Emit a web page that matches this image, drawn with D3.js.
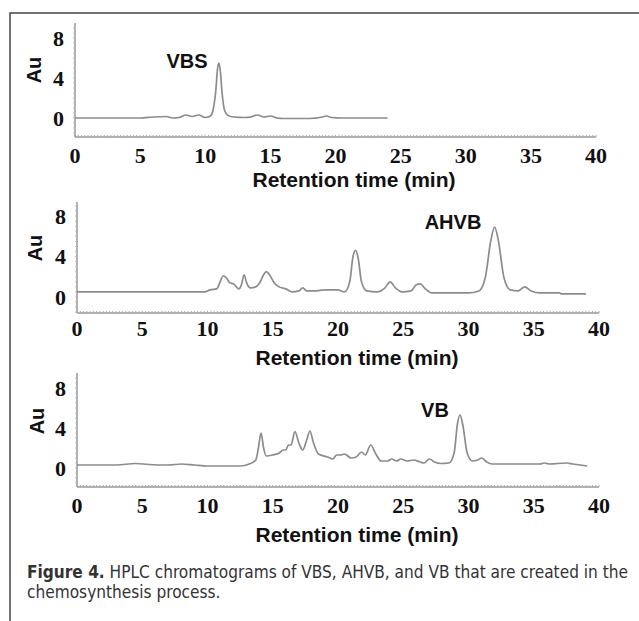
<!DOCTYPE html>
<html><head><meta charset="utf-8">
<script src="https://cdn.jsdelivr.net/npm/d3@7"></script>
<style>body{margin:0;background:#fff}svg{display:block}</style>
</head><body>
<svg id="c" width="639" height="621"></svg>
<script>
// ---- data ----
const xTicks = [0, 5, 10, 15, 20, 25, 30, 35, 40];
const yTicks = [0, 4, 8];
const peakNames = ["VBS", "AHVB", "VB"];
const xTitle = "Retention time (min)";
const yTitle = "Au";

const vbsTime = [0, 5, 6, 7, 7.5, 8, 8.5, 9, 9.5, 10, 10.4, 10.6, 10.8, 10.95, 11.05, 11.15, 11.3, 11.5, 11.75, 12.2, 13, 13.5, 14, 14.5, 15, 15.5, 16, 18, 19, 19.3, 19.7, 20.5, 24];
const vbsAu   = [0, 0, 0.1, 0.15, 0, 0.05, 0.3, 0.15, 0.3, 0.05, 0.2, 0.8, 2.6, 5.0, 5.5, 4.8, 2.4, 0.7, 0.25, 0.1, 0.05, 0.1, 0.3, 0.1, 0.2, 0, -0.05, -0.05, 0.1, 0.2, 0.05, 0, 0];

const ahvbTime = [0, 9.8, 10.2, 10.7, 11.0, 11.2, 11.5, 11.7, 12.0, 12.4, 12.6, 12.8, 13.0, 13.3, 13.7, 14.0, 14.3, 14.5, 14.8, 15.1, 15.5, 16.0, 16.5, 17.0, 17.3, 17.6, 18.2, 19.0, 20.0, 20.5, 20.9, 21.15, 21.35, 21.55, 21.8, 22.2, 23.0, 23.6, 24.0, 24.4, 24.9, 25.6, 26.0, 26.3, 26.7, 27.2, 30.0, 30.8, 31.3, 31.7, 32.0, 32.3, 32.7, 33.2, 33.8, 34.3, 34.8, 35.5, 37.0, 37.1, 39.0];
const ahvbAu   = [0.5, 0.5, 0.7, 0.8, 1.6, 2.1, 1.8, 1.4, 1.3, 0.8, 1.2, 2.2, 1.4, 0.9, 1.0, 1.4, 2.2, 2.5, 2.1, 1.4, 1.0, 0.8, 0.5, 0.6, 0.9, 0.6, 0.6, 0.7, 0.7, 0.5, 1.5, 4.0, 4.6, 3.8, 1.5, 0.6, 0.5, 0.9, 1.5, 0.9, 0.5, 0.6, 1.2, 1.3, 0.8, 0.4, 0.4, 0.6, 2.0, 5.5, 6.9, 5.5, 2.0, 0.7, 0.6, 1.0, 0.6, 0.4, 0.4, 0.3, 0.3];

const vbTime = [0, 3, 4.5, 5.5, 7, 8, 9, 10, 12.5, 13.2, 13.7, 13.9, 14.1, 14.3, 14.5, 15.0, 15.5, 15.8, 16.0, 16.2, 16.4, 16.7, 17.0, 17.3, 17.6, 17.85, 18.1, 18.5, 19.2, 19.6, 19.9, 20.2, 20.5, 21.0, 21.4, 21.8, 22.1, 22.5, 22.9, 23.3, 23.8, 24.1, 24.5, 24.8, 25.3, 25.8, 26.3, 26.6, 27.0, 27.4, 27.9, 28.5, 28.9, 29.15, 29.35, 29.55, 29.9, 30.3, 30.7, 31.0, 31.4, 31.8, 35.5, 35.8, 36.2, 37.5, 38.0, 39.1];
const vbAu   = [0.3, 0.3, 0.45, 0.35, 0.3, 0.4, 0.3, 0.2, 0.2, 0.4, 0.8, 2.0, 3.5, 2.0, 1.2, 1.3, 1.5, 1.8, 1.8, 2.3, 2.3, 3.65, 2.5, 1.8, 2.8, 3.7, 2.6, 1.4, 1.1, 0.9, 1.3, 1.3, 1.4, 1.0, 1.1, 1.6, 1.3, 2.3, 1.4, 0.7, 0.7, 0.9, 0.7, 0.9, 0.7, 0.8, 0.6, 0.5, 0.9, 0.6, 0.45, 0.5, 1.5, 4.4, 5.3, 4.4, 1.5, 0.7, 0.8, 1.0, 0.6, 0.4, 0.4, 0.5, 0.4, 0.5, 0.4, 0.2];

const captionBold = "Figure 4.";
const captionRest = " HPLC chromatograms of VBS, AHVB, and VB that are created in the";
const captionLine2 = "chemosynthesis process.";

// ---- layout ----
const panels = [
  {time: vbsTime, au: vbsAu, name: peakNames[0], x0: 75, x1: 596, y0: 118, y8: 38, top: 23, axisY: 137,
   tickY: 155, titleY: 180, titleX: 354, auX: 34, auY: 70, nameX: 187, nameY: 61},
  {time: ahvbTime, au: ahvbAu, name: peakNames[1], x0: 77, x1: 599, y0: 297, y8: 216, top: 202, axisY: 313,
   tickY: 328, titleY: 358, titleX: 357, auX: 35, auY: 248, nameX: 453, nameY: 222},
  {time: vbTime, au: vbAu, name: peakNames[2], x0: 77, x1: 599, y0: 468, y8: 388, top: 373, axisY: 487,
   tickY: 505, titleY: 535, titleX: 357, auX: 37, auY: 421, nameX: 435, nameY: 410}
];

const svg = d3.select("#c");
// frame
svg.append("path").attr("d", "M10,621V13H639").attr("fill", "none").attr("stroke", "#444").attr("stroke-width", 1.5);

const lineColor = "#8c8c8c";
panels.forEach(p => {
  const x = d3.scaleLinear().domain([0, 40]).range([p.x0, p.x1]);
  const y = d3.scaleLinear().domain([0, 8]).range([p.y0, p.y8]);
  const g = svg.append("g");
  const yBottom = y.invert(p.axisY), yTop = y.invert(p.top);

  g.append("line").attr("x1", p.x0).attr("x2", p.x0).attr("y1", p.top).attr("y2", p.axisY)
    .attr("stroke", "#999").attr("stroke-width", 1.5);
  const yMinor = d3.range(Math.ceil(yBottom * 2) / 2, yTop, 0.5);
  g.selectAll(".ym").data(yMinor).enter().append("line")
    .attr("x1", p.x0 - 2).attr("x2", p.x0).attr("y1", d => y(d)).attr("y2", d => y(d))
    .attr("stroke", "#bbb").attr("stroke-width", 1);
  g.append("line").attr("x1", p.x0).attr("x2", p.x1).attr("y1", p.axisY).attr("y2", p.axisY)
    .attr("stroke", "#999").attr("stroke-width", 1.5);
  g.selectAll(".xm").data(d3.range(0, 40.01, 0.25)).enter().append("line")
    .attr("x1", d => x(d)).attr("x2", d => x(d)).attr("y1", p.axisY - 2).attr("y2", p.axisY)
    .attr("stroke", "#aaa").attr("stroke-width", 1);

  g.selectAll(".xt").data(xTicks).enter().append("text")
    .attr("x", d => x(d)).attr("y", p.tickY).attr("dy", "0.35em")
    .attr("text-anchor", "middle").attr("font-family", "Liberation Serif").attr("font-weight", "bold")
    .attr("font-size", 22).attr("fill", "#111").text(d => d);
  g.selectAll(".yt").data(yTicks).enter().append("text")
    .attr("x", p.x0 - 11).attr("y", d => y(d)).attr("dy", "0.35em")
    .attr("text-anchor", "end").attr("font-family", "Liberation Serif").attr("font-weight", "bold")
    .attr("font-size", 22).attr("fill", "#111").text(d => d);

  g.append("text").attr("x", p.titleX).attr("y", p.titleY).attr("dy", "0.35em")
    .attr("text-anchor", "middle").attr("font-family", "Liberation Sans").attr("font-weight", "bold")
    .attr("font-size", 21).attr("fill", "#111").text(xTitle);
  g.append("text").attr("transform", `translate(${p.auX},${p.auY}) rotate(-90)`).attr("dy", "0.35em")
    .attr("text-anchor", "middle").attr("font-family", "Liberation Sans").attr("font-weight", "bold")
    .attr("font-size", 20).attr("fill", "#111").text(yTitle);

  const pts = p.time.map((t, i) => [t, p.au[i]]);
  g.append("path").datum(pts)
    .attr("d", d3.line().x(d => x(d[0])).y(d => y(d[1])).curve(d3.curveMonotoneX))
    .attr("fill", "none").attr("stroke", lineColor).attr("stroke-width", 1.7).attr("stroke-linejoin", "round");

  g.append("text").attr("x", p.nameX).attr("y", p.nameY).attr("dy", "0.35em")
    .attr("text-anchor", "middle").attr("font-family", "Liberation Sans").attr("font-weight", "bold")
    .attr("font-size", 20).attr("fill", "#111").text(p.name);
});

// caption: size the font so the first line fits its width in the reference
const capFont = "'Liberation Sans Narrow', 'DejaVu Sans Condensed', 'Liberation Sans', sans-serif";
const cap = svg.append("text").attr("x", 27).attr("y", 578)
  .attr("font-family", capFont).attr("font-size", 18).attr("fill", "#333");
cap.append("tspan").attr("font-weight", "bold").text(captionBold);
cap.append("tspan").text(captionRest);
const natural = cap.node().getComputedTextLength();
const fs = Math.min(18, 18 * 601 / natural);
cap.attr("font-size", fs);
svg.append("text").attr("x", 27).attr("y", 598)
  .attr("font-family", capFont).attr("font-size", fs).attr("fill", "#333").text(captionLine2);
</script>
</body></html>
